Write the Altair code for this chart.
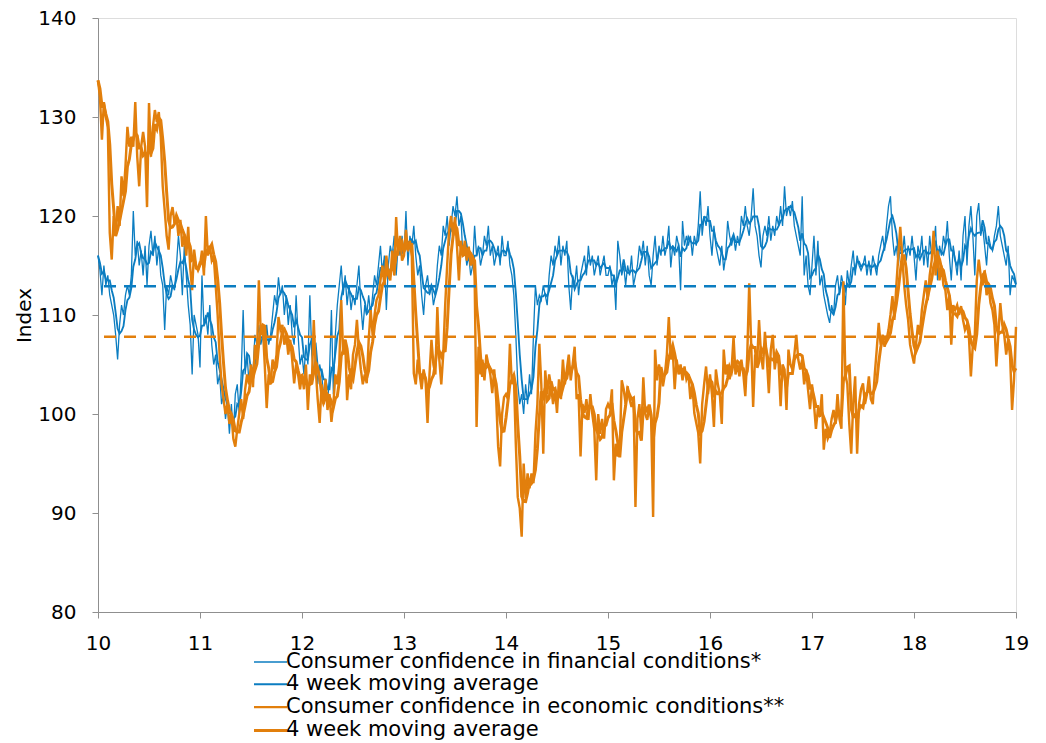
import altair as alt
import pandas as pd

# ---------------- data (weekly index values) ----------------
fin_2010 = [116, 114.5, 112, 115, 113, 114, 112, 111, 110, 108,
            105.5, 109, 111, 110, 112, 113, 112, 114, 120.5, 116,
            117.5, 115, 116.5, 114, 117, 113, 117, 118.5, 116, 118,
            115, 117, 114, 113, 108.5, 113, 112, 114, 113, 112.5,
            115, 118, 116, 112, 117, 114, 111, 109, 104, 110,
            109, 108]
fin_2011 = [104.7, 114, 109, 110, 108, 111, 107, 105, 106, 103,
            104, 101, 102, 99.5, 101, 98, 101, 98, 102, 103,
            100, 104, 110.5, 104, 106, 103, 105, 104, 108, 107,
            109, 107, 108, 106, 109, 107, 108, 110, 112, 111,
            113.8, 112, 113, 110, 112, 109, 111, 108, 107, 112,
            108, 105]
fin_2012 = [106, 104, 107, 105, 112, 106, 104, 106, 103, 105,
            104, 102, 103, 101, 104, 110.5, 102, 108, 111, 113,
            115, 112, 114, 111, 113, 110.5, 112, 111, 113, 115,
            111, 108.5, 111, 110, 112, 110, 112, 114, 113, 115,
            117, 114, 116, 110.5, 115, 117, 116, 118, 114, 117,
            116, 118]
fin_2013 = [116, 120.5, 115, 118, 117, 119, 116, 114, 115, 112,
            110, 113, 114, 112, 113, 111, 112, 115, 117, 116,
            119, 118, 120, 117, 119, 121, 120, 122, 119, 120,
            116, 117, 115, 116, 114, 115, 119, 116, 117, 115,
            116, 118, 117, 119, 116, 117, 115, 116, 117, 115,
            118, 116]
fin_2014 = [116, 117.5, 115, 114, 112, 108, 103, 101, 102, 100,
            103, 101, 104, 102, 108, 113, 111, 112, 111.5, 113,
            112, 111, 114, 116, 115, 117, 116, 118, 115, 117,
            116, 117.5, 113, 110.5, 114, 113, 115, 112, 114, 115,
            116, 114, 117, 115, 116, 114, 115, 116, 114, 115,
            116, 114]
fin_2015 = [114, 115, 113, 114, 110.5, 117.5, 116, 114, 115, 113,
            115, 114, 116, 113, 114, 115, 117, 116, 117.5, 115,
            117, 114, 113, 116, 118, 115, 117, 116, 118, 116,
            117, 119, 114.8, 117, 116, 118, 117, 112.5, 119.5, 117,
            118, 117, 118, 116, 118, 117, 119, 122.5, 118, 120,
            119, 121]
fin_2016 = [118, 116, 119, 117, 116, 115, 117, 114.5, 116, 119.5,
            118, 117, 118, 116.5, 118, 117, 120, 119, 121, 119,
            118, 120, 122.8, 119, 118, 116, 114.8, 118, 119, 118,
            120, 117.5, 119, 118, 120, 119, 121, 119, 123, 120,
            121, 120, 121.5, 119, 118, 117, 116, 122, 114, 116,
            113, 112]
fin_2017 = [115, 118, 114, 117.5, 113, 114, 112, 111, 110, 109.2,
            111, 110, 113, 114, 112, 114, 113, 111, 114.5, 113,
            115, 116.5, 114, 116, 115, 114.5, 115, 116, 114, 115.5,
            114, 116, 115, 114, 116, 117, 118, 116.5, 119, 121,
            122, 118, 116, 117, 115, 117, 116, 118, 115.5, 117,
            116, 118]
fin_2018 = [116, 113.5, 117, 116, 118, 115, 117, 114.8, 118, 116,
            117, 119, 113.5, 117, 116, 118, 117, 119.5, 116, 113.5,
            117, 115.5, 114, 116.5, 113.5, 118, 120, 115, 119, 121,
            118, 114, 120, 121.3, 118, 119, 117, 115, 118, 117,
            116.5, 118, 119, 121, 118, 117, 116, 115, 117, 112,
            114, 113.5, 113]

econ_2010 = [133.7, 132, 127.7, 131.5, 130, 129, 118.3, 115.6, 120, 118,
             121, 119, 124, 122, 125, 129, 127, 128, 127, 131.5,
             126, 123, 127, 128.5, 127, 120.9, 131.4, 126, 129, 130.7,
             129.5, 130.5, 128, 123, 120.6, 118, 116.6, 120, 120.9, 119.3,
             120, 118, 119.6, 116.9, 118, 116, 118.9, 114.8, 112.5, 116.6,
             115, 114.5]
econ_2011 = [115, 116.5, 114, 120, 116, 117, 115.5, 116, 113, 110,
             106, 103, 101.5, 100, 101, 99, 100, 97.5, 96.7, 98.5,
             100, 101.5, 99.5, 102.5, 104, 103, 105, 102.7, 107, 105.5,
             113.5, 108, 109, 105, 100.6, 104, 103, 105.5, 104.5, 106,
             109.8, 108.5, 109, 107, 108, 106, 107.5, 105.5, 103.1, 105,
             104, 102.5]
econ_2012 = [104, 102.5, 105, 100.4, 104, 103, 109.5, 104.5, 101.5, 99.1,
             103, 101, 103.5, 100.4, 102, 99.2, 101, 104, 103, 105,
             111.5, 106, 107.5, 101.4, 104, 102.5, 106, 107, 109.5, 106.5,
             104.5, 103, 104, 103.1, 107.5, 110.5, 108, 110, 111.5, 112,
             113.5, 115, 113, 116, 114, 113.5, 116.5, 114, 119.9, 116,
             118, 115.5]
econ_2013 = [116, 118.6, 116.5, 117.5, 115.9, 104.1, 103, 105.5, 104, 102.5,
             104.5, 103.4, 99.1, 104, 107.5, 105, 104, 110.8, 105.5, 103,
             106, 111, 115, 118.6, 120, 118, 119.9, 117, 113.5, 117.5,
             116, 117.5, 115.5, 116.9, 115, 116, 114, 98.7, 106.8, 104,
             105.5, 103.4, 106, 105, 104, 102.1, 104.5, 101.5, 96.7, 94.7,
             100, 101.7]
econ_2014 = [102, 101.5, 107.1, 103, 104, 97, 91.6, 90.5, 87.6, 95,
             91.5, 94, 92.5, 94, 93, 98, 101, 107.1, 103, 96,
             104.4, 102, 104, 102.8, 101, 102.5, 100.1, 103.5, 101.5, 105.5,
             103, 104.5, 106, 103.4, 105, 106.8, 101.5, 102, 95.7, 101,
             100.1, 101.5, 99.4, 102, 100, 98.5, 93.3, 100, 98, 99.5,
             97.5, 100.5]
econ_2015 = [101, 100.5, 102.5, 93.3, 97, 95.7, 96.5, 103.4, 102.5, 101,
             102.8, 101.5, 100.7, 101.5, 90.6, 99.5, 101, 98.1, 103.7, 100,
             99.4, 100.7, 99.5, 89.6, 106.5, 103.4, 105, 104.1, 102.8, 104,
             106, 109.8, 105.5, 106.5, 102.5, 105.5, 104, 105, 103.4, 104.8,
             103.5, 104, 101.5, 103, 100.1, 99.1, 98.1, 95, 101, 103,
             104.8, 102]
econ_2016 = [104, 102, 98.7, 104.5, 103, 102, 99, 106.5, 104, 105,
             103.5, 104.5, 107.8, 104, 105, 103.8, 105.5, 104, 101.8, 106,
             113.2, 107, 100.7, 106, 105, 109.5, 106, 104.5, 108.3, 105.5,
             102.1, 106.5, 108, 104.5, 106, 105, 100.8, 105, 104.5, 100.4,
             106.5, 105, 104.5, 106, 108, 105.5, 104.5, 105.5, 103, 104.5,
             102.4, 100.5]
econ_2017 = [103, 101, 98.5, 100.5, 99.7, 102, 96.4, 98.5, 97.5, 98,
             99.5, 100.4, 99, 102, 99.5, 98.5, 113.4, 104, 103, 99,
             96, 101, 103.8, 96, 101, 102.5, 103.1, 101, 102, 103.8,
             101.5, 101, 104, 106.5, 109.2, 107, 108, 106.8, 107.5, 108.5,
             110, 111.9, 109.5, 113, 116, 118.9, 116, 113, 111, 109.5,
             107, 106]
econ_2018 = [105.1, 107, 109, 108, 110.5, 112, 113.5, 111.5, 114, 115.5,
             118.5, 114, 116.5, 113.5, 115, 113, 112.5, 110.5, 112, 107,
             111, 110.5, 111, 110, 110.9, 109.5, 108.5, 109, 107.8, 103.8,
             107, 108, 113.5, 115.6, 114, 113, 114.5, 112, 113, 111.2,
             110.5, 109, 104.8, 108, 111.2, 109, 108, 106, 107.5, 105.8,
             100.4, 103.5, 108.8]

avg_fin = 112.9      # long-run average, financial conditions (dashed)
avg_econ = 107.8     # long-run average, economic conditions (dashed)

start_year = 10
weeks_per_year = 52
year_ticks = list(range(10, 20))
y_ticks = [80, 90, 100, 110, 120, 130, 140]

series_keys = ["s1", "s2", "s3", "s4"]
series_labels = ["Consumer confidence in financial conditions*",
                 "4 week moving average",
                 "Consumer confidence in economic conditions**",
                 "4 week moving average"]

# ---------------- styles ----------------
BLUE = "#0B7DC1"
ORANGE = "#E27F0C"
GRAY = "#8F8F8F"
FONT = "DejaVu Sans"
colors = [BLUE, BLUE, ORANGE, ORANGE]
widths = [1.3, 3.0, 1.3, 3.0]

fin = (fin_2010 + fin_2011 + fin_2012 + fin_2013 + fin_2014 +
       fin_2015 + fin_2016 + fin_2017 + fin_2018)
econ = (econ_2010 + econ_2011 + econ_2012 + econ_2013 + econ_2014 +
        econ_2015 + econ_2016 + econ_2017 + econ_2018)
n = min(len(fin), len(econ))
x = [start_year + i / weeks_per_year for i in range(n)]
df = pd.DataFrame({"x": x, "s1": fin[:n], "s3": econ[:n]})

label_expr = "'" + series_labels[3] + "'"
for k, lab in reversed(list(zip(series_keys[:3], series_labels[:3]))):
    label_expr = f"datum.label == '{k}' ? '{lab}' : " + label_expr

legend = alt.Legend(
    title=None, orient="none", legendX=160, legendY=632, direction="vertical",
    symbolType="M-1.5,0H1.5", symbolSize=484, labelFont=FONT, labelFontSize=21,
    labelColor="black", labelOffset=3, rowPadding=0.3, padding=0,
    labelExpr=label_expr, labelLimit=1000,
)

x_enc = alt.X("x:Q", scale=alt.Scale(domain=[10, 19], nice=False, zero=False),
              axis=alt.Axis(values=year_ticks, format="d", title=None, grid=False,
                            domainColor=GRAY, tickColor=GRAY, tickSize=6,
                            labelFont=FONT, labelFontSize=20, labelColor="black",
                            labelPadding=15, labelFlush=False, labelOverlap=False))
y_axis = alt.Axis(values=y_ticks, title="Index", grid=False, domainColor=GRAY,
                  tickColor=GRAY, tickSize=6, labelFont=FONT, labelFontSize=20,
                  labelColor="black", labelPadding=16, titleFont=FONT,
                  titleFontSize=20, titleFontWeight="normal", titleColor="black",
                  titleX=-68, titleY=297, titleAngle=270, titleAlign="center",
                  titleBaseline="alphabetic")
y_scale = alt.Scale(domain=[80, 140], nice=False, zero=False)

lines = alt.Chart(df).transform_window(
    s2="mean(s1)", s4="mean(s3)", frame=[-3, 0], sort=[alt.SortField("x")]
).transform_fold(
    series_keys, as_=["series", "value"]
).mark_line().encode(
    x=x_enc,
    y=alt.Y("value:Q", scale=y_scale, axis=y_axis),
    color=alt.Color("series:N", scale=alt.Scale(domain=series_keys, range=colors),
                    legend=legend),
    strokeWidth=alt.StrokeWidth("series:O",
                                scale=alt.Scale(domain=series_keys, range=widths),
                                legend=legend),
    order=alt.Order("x:Q"),
)

rules = []
for lvl, col in [(avg_fin, BLUE), (avg_econ, ORANGE)]:
    rules.append(
        alt.Chart(pd.DataFrame({"value": [lvl]})).mark_rule(
            strokeDash=[12, 8], strokeWidth=2.5, color=col
        ).encode(y=alt.Y("value:Q", scale=y_scale, axis=y_axis))
    )

chart = alt.layer(lines, *rules).properties(
    width=918, height=594,
    autosize=alt.AutoSizeParams(type="none"),
    padding={"left": 90, "top": 10, "right": 22, "bottom": 128},
    background="white",
).configure_view(stroke=None).configure(font=FONT)

chart.save("out.html", embed_options={"renderer": "svg", "actions": False})
